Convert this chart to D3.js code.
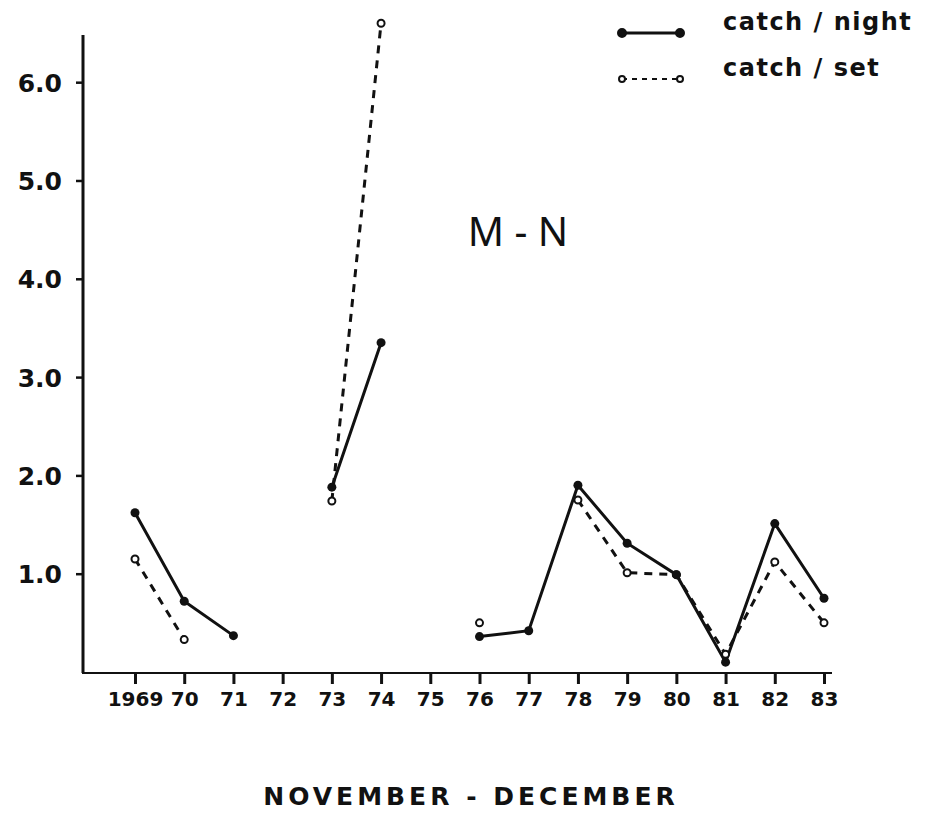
<!DOCTYPE html>
<html lang="en">
<head>
    <meta charset="utf-8">
    <title>M-N catch</title>
    <script src="https://cdn.jsdelivr.net/npm/d3@7"></script>
    <style type="text/css">
        body { margin: 0; background: #fff; }
        text { font-family: "DejaVu Sans", sans-serif; fill: #111; }
        .lbl { font-weight: bold; }
    </style>
</head>
<body>
    <div id="chart"></div>
    <script>
        // data (null = no value)
        var years = [1969, 1970, 1971, 1972, 1973, 1974, 1975, 1976, 1977, 1978, 1979, 1980, 1981, 1982, 1983];
        var yearLabels = ["1969", "70", "71", "72", "73", "74", "75", "76", "77", "78", "79", "80", "81", "82", "83"];
        var catchNight = [1.62, 0.72, 0.37, null, 1.88, 3.35, null, 0.36, 0.42, 1.90, 1.31, 0.99, 0.10, 1.51, 0.75];
        var catchSet = [1.15, 0.33, null, null, 1.74, 6.60, null, 0.50, null, 1.75, 1.01, 0.99, 0.18, 1.12, 0.50];
        var yTicks = [1, 2, 3, 4, 5, 6];

        var width = 926, height = 818;

        var svg = d3.select("#chart")
            .append("svg")
            .attr("width", width)
            .attr("height", height);

        var x = d3.scaleLinear().domain([1969, 1983]).range([135, 824]);
        var y = d3.scaleLinear().domain([0, 6.48]).range([672, 35]);

        //axes
        var yAxis = d3.axisLeft(y)
            .tickValues(yTicks)
            .tickSize(7)
            .tickPadding(14)
            .tickFormat(d3.format(".1f"));

        var gy = svg.append("g")
            .attr("transform", "translate(83,0)")
            .call(yAxis);
        gy.select(".domain").remove();
        gy.selectAll("line").attr("stroke", "#111").attr("stroke-width", 2.5);
        gy.selectAll("text")
            .attr("class", "lbl")
            .style("font-size", "25px")
            .style("font-family", "DejaVu Sans")
            .attr("dy", "0.36em");

        var xAxis = d3.axisBottom(x)
            .tickValues(years)
            .tickSize(11)
            .tickPadding(8)
            .tickFormat(function (d, i) { return yearLabels[i]; });

        var gx = svg.append("g")
            .attr("transform", "translate(0,673)")
            .call(xAxis);
        gx.select(".domain").remove();
        gx.selectAll("line").attr("stroke", "#111").attr("stroke-width", 3);
        gx.selectAll("text")
            .attr("class", "lbl")
            .style("font-size", "20px")
            .style("font-family", "DejaVu Sans");

        // axis lines
        svg.append("line")
            .attr("x1", 83).attr("x2", 83)
            .attr("y1", y.range()[1]).attr("y2", 673)
            .attr("stroke", "#111").attr("stroke-width", 3);
        svg.append("line")
            .attr("x1", 82).attr("x2", 832)
            .attr("y1", 673).attr("y2", 673)
            .attr("stroke", "#111").attr("stroke-width", 2);

        //series
        var nightData = years.map(function (d, i) { return { year: d, v: catchNight[i] }; });
        var setData = years.map(function (d, i) { return { year: d, v: catchSet[i] }; });

        var line = d3.line()
            .defined(function (d) { return d.v !== null; })
            .x(function (d) { return x(d.year); })
            .y(function (d) { return y(d.v); });

        svg.append("path")
            .datum(setData)
            .attr("d", line)
            .attr("fill", "none")
            .attr("stroke", "#111")
            .attr("stroke-width", 3)
            .attr("stroke-dasharray", "8,7");

        svg.append("path")
            .datum(nightData)
            .attr("d", line)
            .attr("fill", "none")
            .attr("stroke", "#111")
            .attr("stroke-width", 3);

        svg.selectAll(".setpt")
            .data(setData.filter(function (d) { return d.v !== null; }))
            .enter()
            .append("circle")
            .attr("class", "setpt")
            .attr("cx", function (d) { return x(d.year); })
            .attr("cy", function (d) { return y(d.v); })
            .attr("r", 3.5)
            .attr("fill", "#fff")
            .attr("stroke", "#111")
            .attr("stroke-width", 2);

        svg.selectAll(".nightpt")
            .data(nightData.filter(function (d) { return d.v !== null; }))
            .enter()
            .append("circle")
            .attr("class", "nightpt")
            .attr("cx", function (d) { return x(d.year); })
            .attr("cy", function (d) { return y(d.v); })
            .attr("r", 4.5)
            .attr("fill", "#111");

        //legend
        var legend = [
            { label: "catch / night", dash: null, y: 33, open: false },
            { label: "catch / set", dash: "5,5", y: 79, open: true }
        ];
        var lg = svg.selectAll(".legend")
            .data(legend)
            .enter()
            .append("g")
            .attr("class", "legend");
        lg.append("line")
            .attr("x1", 622).attr("x2", 680)
            .attr("y1", function (d) { return d.y; })
            .attr("y2", function (d) { return d.y; })
            .attr("stroke", "#111")
            .attr("stroke-width", function (d) { return d.open ? 2 : 3; })
            .attr("stroke-dasharray", function (d) { return d.dash; });
        [622, 680].forEach(function (cx) {
            lg.append("circle")
                .attr("cx", cx)
                .attr("cy", function (d) { return d.y; })
                .attr("r", function (d) { return d.open ? 3 : 4; })
                .attr("fill", function (d) { return d.open ? "#fff" : "#111"; })
                .attr("stroke", "#111")
                .attr("stroke-width", 2);
        });
        lg.append("text")
            .attr("class", "lbl")
            .attr("x", 723)
            .attr("y", function (d) { return d.y - 3; })
            .style("font-size", "24px")
            .style("letter-spacing", "1.5px")
            .text(function (d) { return d.label; });

        // panel label and axis title
        svg.append("text")
            .attr("x", 518)
            .attr("y", 246)
            .attr("text-anchor", "middle")
            .style("font-size", "40px")
            .style("font-family", "Noto Sans")
            .text("M - N");

        svg.append("text")
            .attr("class", "lbl")
            .attr("x", 471)
            .attr("y", 805)
            .attr("text-anchor", "middle")
            .style("font-size", "25px")
            .style("letter-spacing", "4px")
            .text("NOVEMBER - DECEMBER");
    </script>
</body>
</html>
